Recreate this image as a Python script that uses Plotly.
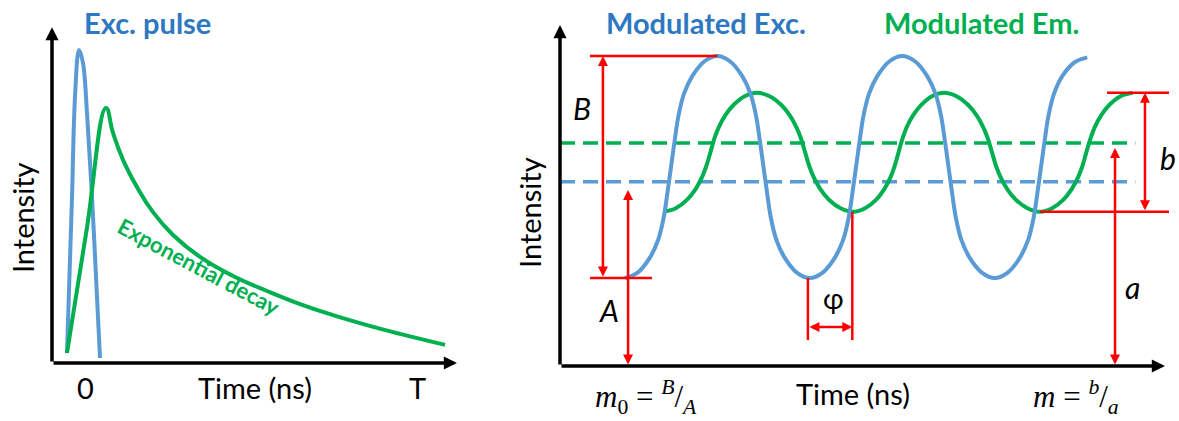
import plotly.graph_objects as go

# ---------------- Left panel: pulse excitation + exponential decay ----------------
pulse_t = [-0.488, -0.352, -0.271, -0.163, -0.054, 0.054, 0.190, 0.325, 0.407]
pulse_i = [0.032, 0.530, 0.850, 1.000, 0.958, 0.799, 0.530, 0.211, 0.016]

decay_t = [-0.488, 0.041, 0.569, 0.759, 1.030, 1.409, 1.843, 2.385, 3.117, 4.011,
           4.932, 5.827, 6.721, 7.642, 8.537, 9.756]
decay_i = [0.032, 0.423, 0.815, 0.735, 0.649, 0.562, 0.482, 0.409, 0.339, 0.278,
           0.230, 0.188, 0.153, 0.121, 0.093, 0.058]

left_tick_vals = [0, 9]
left_tick_text = ["0", "T"]
left_axis_t = [-0.894, 10.08]
left_axis_top = 1.073

# ---------------- Right panel: frequency-domain modulation ----------------
exc_t = [3.5, 4.2, 4.85, 5.3, 5.6, 5.8, 6.0, 6.2, 6.4, 6.7, 7.15, 7.8, 8.5,
         9.2, 9.85, 10.3, 10.6, 10.8, 11.0, 11.2, 11.4, 11.7, 12.15, 12.8, 13.5,
         14.2, 14.85, 15.3, 15.6, 15.8, 16.0, 16.2, 16.4, 16.7, 17.15, 17.8, 18.5,
         19.2, 19.85, 20.3, 20.6, 20.8, 21.0, 21.2, 21.4, 21.7, 22.15, 22.8, 23.5,
         24.2, 24.85, 25.3, 25.6, 25.8, 26.0, 26.2, 26.4, 26.7, 27.15, 27.8, 28.5]
exc_i = [0.258, 0.274, 0.317, 0.369, 0.434, 0.505, 0.5835, 0.662, 0.733, 0.798, 0.850, 0.893, 0.909,
         0.893, 0.850, 0.798, 0.733, 0.662, 0.5835, 0.505, 0.434, 0.369, 0.317, 0.274, 0.258,
         0.274, 0.317, 0.369, 0.434, 0.505, 0.5835, 0.662, 0.733, 0.798, 0.850, 0.893, 0.909,
         0.893, 0.850, 0.798, 0.733, 0.662, 0.5835, 0.505, 0.434, 0.369, 0.317, 0.274, 0.258,
         0.274, 0.317, 0.369, 0.434, 0.505, 0.5835, 0.662, 0.733, 0.798, 0.850, 0.890, 0.905]

em_t = [5.6, 6.26, 6.86, 7.32, 7.67, 7.9, 8.13, 8.35, 8.58, 8.93, 9.39, 9.99, 10.65,
        11.33, 11.95, 12.42, 12.78, 13.02, 13.25, 13.48, 13.72, 14.08, 14.55, 15.17, 15.85,
        16.49, 17.08, 17.52, 17.86, 18.08, 18.3, 18.52, 18.74, 19.08, 19.53, 20.11, 20.75,
        21.43, 22.05, 22.52, 22.88, 23.12, 23.35, 23.58, 23.82, 24.18, 24.65, 25.27, 25.95,
        26.6, 27.2, 27.65, 28.0, 28.23, 28.45, 28.68, 28.9, 29.25, 29.7, 30.3, 30.95]
em_i = [0.452, 0.4625, 0.487, 0.518, 0.553, 0.585, 0.6265, 0.668, 0.700, 0.735, 0.766, 0.791, 0.801,
        0.791, 0.766, 0.735, 0.700, 0.668, 0.6265, 0.585, 0.553, 0.518, 0.487, 0.4625, 0.452,
        0.4625, 0.487, 0.518, 0.553, 0.585, 0.6265, 0.668, 0.700, 0.735, 0.766, 0.791, 0.801,
        0.791, 0.766, 0.735, 0.700, 0.668, 0.6265, 0.585, 0.553, 0.518, 0.487, 0.4625, 0.452,
        0.4625, 0.487, 0.518, 0.553, 0.585, 0.6265, 0.668, 0.700, 0.735, 0.766, 0.791, 0.801]

exc_mean = 0.540
em_mean = 0.654
exc_max, exc_min = 0.909, 0.258
em_max, em_min = 0.801, 0.452
mean_t = [0.0, 31.1]
right_axis_t = [0.0, 32.7]
right_axis_top = 1.0

# annotation guide values
B_line_t = [1.62, 8.5]
B_low_t = [1.62, 4.97]
B_arrow_t = 2.32
A_arrow_t, A_top = 3.68, 0.516
phi_t = [13.4, 15.8]
phi_low = 0.076
phi_arrow_i = 0.114
b_top_t = [29.57, 32.92]
b_low_t = [25.95, 32.92]
b_arrow_t = 31.62
a_arrow_t, a_top = 30.0, 0.639

BLUE = "#5B9BD5"
BLUE_T = "#2E78C2"
GREEN = "#00B050"
RED = "#FF0000"
FONT = "Lato"
SERIF = "Liberation Serif"

fig = go.Figure()

# left traces
fig.add_trace(go.Scatter(x=pulse_t, y=pulse_i, mode="lines", line=dict(color=BLUE, width=4, shape="spline", smoothing=1.0),
                         xaxis="x", yaxis="y", showlegend=False, hoverinfo="skip"))
fig.add_trace(go.Scatter(x=decay_t, y=decay_i, mode="lines", line=dict(color=GREEN, width=4, shape="spline", smoothing=1.3),
                         xaxis="x", yaxis="y", showlegend=False, hoverinfo="skip"))

# right traces
fig.add_trace(go.Scatter(x=mean_t, y=[em_mean, em_mean], mode="lines", line=dict(color=GREEN, width=3.5, dash="15px,8px"),
                         xaxis="x2", yaxis="y2", showlegend=False, hoverinfo="skip"))
fig.add_trace(go.Scatter(x=mean_t, y=[exc_mean, exc_mean], mode="lines", line=dict(color=BLUE, width=3.5, dash="15px,8px"),
                         xaxis="x2", yaxis="y2", showlegend=False, hoverinfo="skip"))
fig.add_trace(go.Scatter(x=em_t, y=em_i, mode="lines", line=dict(color=GREEN, width=4, shape="spline", smoothing=1.0),
                         xaxis="x2", yaxis="y2", showlegend=False, hoverinfo="skip"))
fig.add_trace(go.Scatter(x=exc_t, y=exc_i, mode="lines", line=dict(color=BLUE, width=4, shape="spline", smoothing=1.0),
                         xaxis="x2", yaxis="y2", showlegend=False, hoverinfo="skip"))


def red_line(xs, ys):
    fig.add_trace(go.Scatter(x=xs, y=ys, mode="lines", line=dict(color=RED, width=2.5),
                             xaxis="x2", yaxis="y2", showlegend=False, hoverinfo="skip"))


red_line(B_line_t, [exc_max, exc_max])
red_line(B_low_t, [exc_min, exc_min])
red_line([phi_t[0], phi_t[0]], [exc_min, phi_low])
red_line([phi_t[1], phi_t[1]], [em_min, phi_low])
red_line(b_top_t, [em_max, em_max])
red_line(b_low_t, [em_min, em_min])

annotations = []


def arrow(ref, x0, y0, x1, y1, color, width, size, both=False):
    xr, yr = ref
    annotations.append(dict(x=x1, y=y1, ax=x0, ay=y0, xref=xr, yref=yr, axref=xr, ayref=yr,
                            text="", showarrow=True, arrowhead=2, arrowsize=size, arrowwidth=width,
                            arrowcolor=color, arrowside="end+start" if both else "end",
                            startarrowhead=2, startarrowsize=size, standoff=0, startstandoff=0))


def label(ref, x, y, text, size, color="black", family=FONT, angle=0):
    xr, yr = ref
    annotations.append(dict(x=x, y=y, xref=xr, yref=yr, text=text, showarrow=False,
                            font=dict(family=family, size=size, color=color), textangle=angle,
                            xanchor="center", yanchor="middle"))


L = ("x", "y")
R = ("x2", "y2")

# axes arrows
arrow(L, left_axis_t[0], 0, left_axis_t[0], left_axis_top, "black", 3.5, 0.75)
arrow(L, left_axis_t[0], 0, left_axis_t[1], 0, "black", 3.5, 0.75)
arrow(R, right_axis_t[0], 0, right_axis_t[0], right_axis_top, "black", 3.5, 0.75)
arrow(R, right_axis_t[0], 0, right_axis_t[1], 0, "black", 3.5, 0.75)

# red measurement arrows
arrow(R, B_arrow_t, exc_min, B_arrow_t, exc_max, RED, 2.5, 0.8, both=True)
arrow(R, A_arrow_t, 0, A_arrow_t, A_top, RED, 2.5, 0.8, both=True)
arrow(R, phi_t[0], phi_arrow_i, phi_t[1], phi_arrow_i, RED, 2.5, 0.8, both=True)
arrow(R, b_arrow_t, em_min, b_arrow_t, em_max, RED, 2.5, 0.8, both=True)
arrow(R, a_arrow_t, 0, a_arrow_t, a_top, RED, 2.5, 0.8, both=True)

# left texts
label(L, 1.707, 1.089, "<b>Exc. pulse</b>", 29, BLUE_T)
label(L, -1.707, 0.463, "Intensity", 29, angle=-90)
for tv, tt in zip(left_tick_vals, left_tick_text):
    label(L, tv, -0.077, tt, 29)
label(L, 4.607, -0.077, "Time (ns)", 29)
label(L, 3.089, 0.307, "<b>Exponential decay</b>", 22, GREEN, angle=28)

# right texts
label(R, 7.89, 1.006, "<b>Modulated Exc.</b>", 29, BLUE_T)
label(R, 22.76, 1.006, "<b>Modulated Em.</b>", 29, GREEN)
label(R, -1.62, 0.449, "Intensity", 29, angle=-90)
label(R, 15.84, -0.082, "Time (ns)", 29)
label(R, 4.65, -0.092, "<i>m</i><sub>0</sub> = <sup><i>B</i></sup>/<sub><i>A</i></sub>", 31, family=SERIF)
label(R, 27.9, -0.092, "<i>m</i> = <sup><i>b</i></sup>/<sub><i>a</i></sub>", 31, family=SERIF)
label(R, 1.19, 0.757, "<i>B</i>", 30)
label(R, 2.65, 0.164, "<i>A</i>", 30)
label(R, 14.76, 0.199, "φ", 28)
label(R, 32.86, 0.610, "<i>b</i>", 30)
label(R, 30.97, 0.232, "<i>a</i>", 30)

W, H = 1179, 421
split = 470 / W
fig.update_layout(
    width=W, height=H, margin=dict(l=0, r=0, t=0, b=0),
    paper_bgcolor="white", plot_bgcolor="white",
    xaxis=dict(domain=[0, split], range=[-2.3035, 10.4336], visible=False),
    yaxis=dict(domain=[0, 1], range=[-0.1853, 1.1597], visible=False),
    xaxis2=dict(domain=[split, 1], range=[-4.865, 33.459], visible=False),
    yaxis2=dict(domain=[0, 1], range=[-0.1613, 1.0733], visible=False, anchor="x2"),
    annotations=annotations,
    showlegend=False,
)

fig.write_html("out.html")
